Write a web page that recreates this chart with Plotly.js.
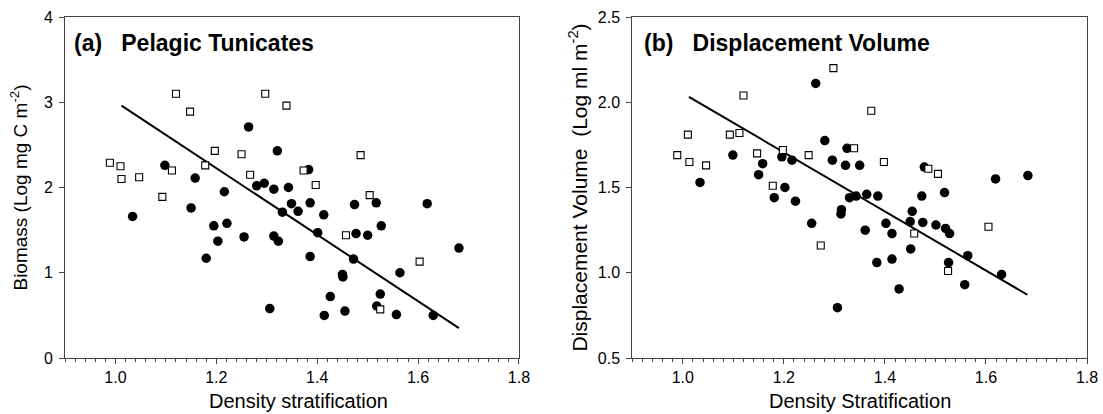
<!DOCTYPE html>
<html>
<head>
<meta charset="utf-8">
<script src="https://cdn.plot.ly/plotly-3.0.1.min.js"></script>
<style>html,body{margin:0;padding:0;background:#fff;}#chart{width:1103px;height:414px;}</style>
</head>
<body>
<div id="chart"></div>
<script>
// Panel (a) Pelagic Tunicates
const tunOpenX = [1.120,1.297,1.339,1.148,1.197,1.250,0.989,1.010,1.112,1.178,1.373,1.012,1.047,1.267,1.093,1.486,1.397,1.504,1.457,1.603,1.525];
const tunOpenY = [3.10,3.10,2.96,2.89,2.43,2.39,2.29,2.25,2.20,2.26,2.20,2.10,2.12,2.15,1.89,2.38,2.03,1.91,1.44,1.13,0.57];
const tunFilledX = [1.264,1.321,1.098,1.383,1.158,1.280,1.295,1.314,1.343,1.216,1.349,1.386,1.331,1.362,1.034,1.150,1.195,1.221,1.203,1.255,1.314,1.323,1.180,1.386,1.306,1.474,1.517,1.618,1.413,1.527,1.401,1.477,1.500,1.681,1.472,1.564,1.450,1.451,1.426,1.525,1.518,1.414,1.455,1.557,1.630];
const tunFilledY = [2.71,2.43,2.26,2.21,2.11,2.02,2.05,1.98,2.00,1.95,1.81,1.82,1.71,1.72,1.66,1.76,1.55,1.58,1.37,1.42,1.43,1.37,1.17,1.19,0.58,1.80,1.82,1.81,1.68,1.55,1.47,1.46,1.44,1.29,1.16,1.00,0.98,0.95,0.72,0.75,0.61,0.50,0.55,0.51,0.50];
const tunLineX = [1.012,1.681];
const tunLineY = [2.96,0.35];

// Panel (b) Displacement Volume
const dvOpenX = [1.120,1.010,1.093,1.112,0.989,1.013,1.046,1.147,1.198,1.178,1.249,1.298,1.273,1.339,1.373,1.398,1.486,1.505,1.605,1.458,1.525];
const dvOpenY = [2.04,1.81,1.81,1.82,1.69,1.65,1.63,1.70,1.72,1.51,1.69,2.20,1.16,1.73,1.95,1.65,1.61,1.58,1.27,1.23,1.01];
const dvFilledX = [1.263,1.099,1.034,1.150,1.158,1.196,1.216,1.202,1.181,1.223,1.255,1.281,1.325,1.296,1.322,1.350,1.330,1.343,1.314,1.313,1.306,1.364,1.386,1.478,1.619,1.683,1.518,1.473,1.454,1.450,1.475,1.402,1.361,1.414,1.501,1.520,1.528,1.451,1.564,1.384,1.414,1.526,1.631,1.558,1.428];
const dvFilledY = [2.11,1.69,1.53,1.575,1.64,1.68,1.66,1.50,1.44,1.42,1.29,1.775,1.73,1.66,1.63,1.63,1.44,1.45,1.37,1.345,0.795,1.46,1.45,1.62,1.55,1.57,1.47,1.45,1.36,1.30,1.295,1.29,1.25,1.23,1.28,1.26,1.23,1.14,1.10,1.06,1.08,1.06,0.99,0.93,0.905];
const dvLineX = [1.012,1.682];
const dvLineY = [2.032,0.871];

const FONT = 'Liberation Sans, Arial, Helvetica, sans-serif';
const filledMarker = {symbol:'circle', size:9.5, color:'#000', line:{width:0}};
const openMarker = {symbol:'square', size:7, color:'#fff', line:{width:1.1, color:'#000'}};
const lineStyle = {color:'#000', width:2};

const traces = [
  {x:tunLineX, y:tunLineY, mode:'lines', line:lineStyle, xaxis:'x', yaxis:'y', showlegend:false, hoverinfo:'skip'},
  {x:tunFilledX, y:tunFilledY, mode:'markers', marker:filledMarker, xaxis:'x', yaxis:'y', showlegend:false},
  {x:tunOpenX, y:tunOpenY, mode:'markers', marker:openMarker, xaxis:'x', yaxis:'y', showlegend:false},
  {x:dvLineX, y:dvLineY, mode:'lines', line:lineStyle, xaxis:'x2', yaxis:'y2', showlegend:false, hoverinfo:'skip'},
  {x:dvFilledX, y:dvFilledY, mode:'markers', marker:filledMarker, xaxis:'x2', yaxis:'y2', showlegend:false},
  {x:dvOpenX, y:dvOpenY, mode:'markers', marker:openMarker, xaxis:'x2', yaxis:'y2', showlegend:false}
];

const axisCommon = {
  showline:true, mirror:true, linecolor:'#444', linewidth:1,
  showgrid:false, zeroline:false, ticks:'outside', ticklen:5, tickwidth:1, tickcolor:'#444',
  tickfont:{family:FONT, size:16, color:'#000'}
};
const xCommon = Object.assign({}, axisCommon, {
  range:[0.9,1.8], tick0:1.0, dtick:0.2, tickformat:'.1f',
  minor:{dtick:0.02, tick0:0.9, ticks:'outside', ticklen:3, tickcolor:'#444', showgrid:false}
});

const layout = {
  width:1103, height:414,
  margin:{l:65, r:16, t:17, b:56},
  paper_bgcolor:'#fff', plot_bgcolor:'#fff',
  font:{family:FONT, color:'#000'},
  xaxis: Object.assign({}, xCommon, {domain:[0,0.4442], anchor:'y'}),
  yaxis: Object.assign({}, axisCommon, {domain:[0,1], anchor:'x', range:[0,4], dtick:1, ticklabelstandoff:3,
    title:{text:'Biomass (Log mg C m<sup>-2</sup>)', font:{family:FONT, size:19}, standoff:11}}),
  xaxis2: Object.assign({}, xCommon, {domain:[0.5551,1], anchor:'y2'}),
  yaxis2: Object.assign({}, axisCommon, {domain:[0,1], anchor:'x2', range:[0.5,2.5], dtick:0.5, tickformat:'.1f', ticklabelstandoff:3,
    title:{text:'Displacement Volume&nbsp;&nbsp;(Log ml m<sup>-2</sup>)', font:{family:FONT, size:21}, standoff:4}}),
  annotations:[
    {xref:'x domain', yref:'y domain', x:0.0154, y:0.925, xanchor:'left', yanchor:'middle', showarrow:false,
     text:'<b>(a)&nbsp;&nbsp;&nbsp;Pelagic Tunicates</b>', font:{family:FONT, size:23, color:'#000'}},
    {xref:'x2 domain', yref:'y2 domain', x:0.0214, y:0.925, xanchor:'left', yanchor:'middle', showarrow:false,
     text:'<b>(b)&nbsp;&nbsp;&nbsp;Displacement Volume</b>', font:{family:FONT, size:23, color:'#000'}},
    {xref:'x domain', yref:'y domain', x:0.515, y:-0.126, xanchor:'center', yanchor:'middle', showarrow:false,
     text:'Density stratification', font:{family:FONT, size:20, color:'#000'}},
    {xref:'x2 domain', yref:'y2 domain', x:0.5, y:-0.126, xanchor:'center', yanchor:'middle', showarrow:false,
     text:'Density Stratification', font:{family:FONT, size:20, color:'#000'}}
  ]
};

Plotly.newPlot('chart', traces, layout, {staticPlot:true, displayModeBar:false});
</script>
</body>
</html>
